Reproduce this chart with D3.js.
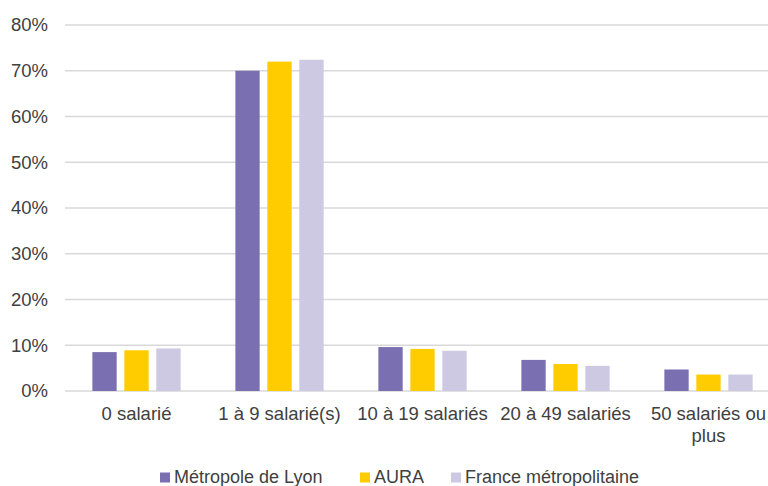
<!DOCTYPE html>
<html>
<head>
<meta charset="utf-8">
<script src="https://cdn.jsdelivr.net/npm/d3@7"></script>
<style>
  body { margin: 0; background: #fff; }
  svg { display: block; font-family: "Liberation Sans", Arial, sans-serif; }
  .axis text { fill: #404040; font-size: 18.5px; }
  .axis path { display: none; }
  .grid line { stroke: #d9d9d9; stroke-width: 1.6; }
</style>
</head>
<body>
<div id="chart"></div>
<script>
var categories = ["0 salarié", "1 à 9 salarié(s)", "10 à 19 salariés", "20 à 49 salariés", "50 salariés ou plus"];
var series = ["Métropole de Lyon", "AURA", "France métropolitaine"];
var metropole = [8.5, 70.0, 9.6, 6.8, 4.7];
var aura = [8.9, 72.0, 9.2, 5.9, 3.6];
var france = [9.3, 72.4, 8.8, 5.5, 3.6];
var yTicks = [0, 10, 20, 30, 40, 50, 60, 70, 80];
var colors = ["#7a6fb0", "#ffcc00", "#cdc9e2"];

var width = 768, height = 486;
var margin = {top: 25, right: -12, bottom: 95, left: 65};
var plotW = width - margin.left - margin.right,
    plotH = height - margin.top - margin.bottom;

var values = [metropole, aura, france];
var data = categories.map(function(c, i) {
  return {cat: c, vals: series.map(function(s, j) { return {name: s, idx: j, v: values[j][i]}; })};
});

var svg = d3.select("#chart").append("svg")
    .attr("width", width)
    .attr("height", height);

var g = svg.append("g")
    .attr("transform", "translate(" + margin.left + "," + margin.top + ")");

var x0 = d3.scaleBand().domain(categories).range([0, plotW]).paddingInner(0.329).paddingOuter(0.1645);
var x1 = d3.scaleBand().domain(series).range([0, x0.bandwidth()]).paddingInner(0.24).paddingOuter(0.12);
var y = d3.scaleLinear().domain([0, 80]).range([plotH, 0]);

// gridlines
g.append("g")
    .attr("class", "grid")
    .selectAll("line")
    .data(yTicks)
  .enter().append("line")
    .attr("x1", 0)
    .attr("x2", plotW)
    .attr("y1", function(d) { return y(d); })
    .attr("y2", function(d) { return y(d); });

// y axis
var yAxis = d3.axisLeft(y).tickValues(yTicks).tickSize(0).tickPadding(17)
    .tickFormat(function(d) { return d + "%"; });
g.append("g")
    .attr("class", "axis y")
    .call(yAxis);

// bars
var groups = g.selectAll(".group")
    .data(data)
  .enter().append("g")
    .attr("class", "group")
    .attr("transform", function(d) { return "translate(" + x0(d.cat) + ",0)"; });

groups.selectAll("rect")
    .data(function(d) { return d.vals; })
  .enter().append("rect")
    .attr("x", function(d) { return x1(d.name); })
    .attr("width", x1.bandwidth())
    .attr("y", function(d) { return y(d.v); })
    .attr("height", function(d) { return plotH - y(d.v); })
    .style("fill", function(d) { return colors[d.idx]; });

// x axis
var xAxis = d3.axisBottom(x0).tickSize(0).tickPadding(16);
var xg = g.append("g")
    .attr("class", "axis x")
    .attr("transform", "translate(0," + plotH + ")")
    .call(xAxis);

// wrap the last label on two lines
xg.selectAll(".tick text").each(function(d) {
  var t = d3.select(this);
  if (d === "50 salariés ou plus") {
    t.text(null);
    t.append("tspan").attr("x", 0).attr("dy", "0.71em").text("50 salariés ou");
    t.append("tspan").attr("x", 0).attr("dy", "1.2em").text("plus");
    t.attr("dy", null);
  }
});

// legend
var legendX = [160, 360, 451];
var legend = svg.append("g").attr("class", "legend");
var items = legend.selectAll("g")
    .data(series)
  .enter().append("g")
    .attr("transform", function(d, i) { return "translate(" + legendX[i] + ",476.5)"; });
items.append("rect")
    .attr("x", 0)
    .attr("y", -4)
    .attr("width", 10)
    .attr("height", 10)
    .style("fill", function(d, i) { return colors[i]; });
items.append("text")
    .attr("x", 14)
    .attr("dy", "0.35em")
    .style("font-size", "18px")
    .style("fill", "#404040")
    .text(function(d) { return d; });
</script>
</body>
</html>
